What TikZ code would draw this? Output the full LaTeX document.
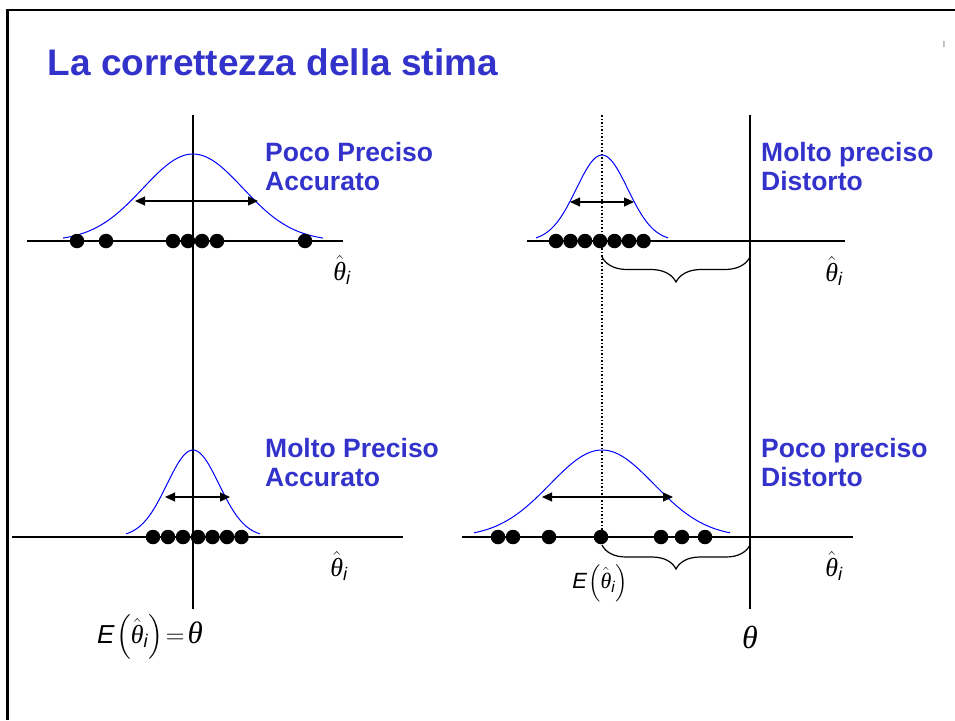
\documentclass[tikz,border=0pt]{standalone}
\usepackage{fix-cm}
\usepackage{amsmath}
\usepackage{fontspec}
\setmainfont{Liberation Sans}
\newfontfamily\grkfont{Liberation Serif}
\newcommand{\thetaglyph}{\text{\grkfont\itshape θ}}
\newcommand{\thetahat}{\hat{\thetaglyph}_{\textit{i}}}
\usetikzlibrary{arrows.meta,decorations.pathreplacing}
\definecolor{titleblue}{RGB}{51,51,204}
\definecolor{curveblue}{RGB}{0,0,255}
\begin{document}
\begin{tikzpicture}[x=1pt,y=-1pt,
  axisline/.style={line width=1.8pt},
  bellcurve/.style={draw=curveblue,line width=1pt},
  dotnode/.style={circle,fill=black,inner sep=0pt,minimum size=14.5pt},
  widtharrow/.style={{Triangle[length=10pt,width=9pt]}-{Triangle[length=10pt,width=9pt]},line width=1.2pt},
  panellabel/.style={text=titleblue,font=\bfseries\fontsize{26.5}{30}\selectfont,anchor=base west,inner sep=0pt},
  mathlabel/.style={font=\fontsize{26}{28}\selectfont,inner sep=0pt},
  bracestyle/.style={decorate,decoration={brace,amplitude=25pt},line width=1.2pt}]
\useasboundingbox (0,0) rectangle (955,720);
% frame
\coordinate (fbl) at (7.5,720);
\coordinate (ftl) at (7.5,10);
\coordinate (ftr) at (955,10);
\draw[line width=2.5pt] (fbl) -- (ftl) -- (ftr);
% page mark
\node[inner sep=0pt,font=\fontsize{9}{9}\selectfont,xscale=0.35,text=black!70] (pagenum) at (944,44) {8};
% title
\node[text=titleblue,font=\bfseries\fontsize{37}{40}\selectfont,anchor=base west,inner sep=0pt] (title) at (47.5,75) {La correttezza della stima};

% vertical lines
\coordinate (vlt) at (193,115); \coordinate (vlb) at (193,609);
\coordinate (vrt) at (750,115); \coordinate (vrb) at (750,609);
\coordinate (vdt) at (602,115); \coordinate (vdb) at (602,537);
\draw[axisline] (vlt) -- (vlb);
\draw[axisline] (vrt) -- (vrb);
\draw[dotted,line width=1.5pt] (vdt) -- (vdb);

% horizontal axes
\coordinate (a1l) at (27,241);  \coordinate (a1r) at (343,241);
\coordinate (a2l) at (527,241); \coordinate (a2r) at (845,241);
\coordinate (a3l) at (12,537);  \coordinate (a3r) at (403,537);
\coordinate (a4l) at (462,537); \coordinate (a4r) at (853,537);
\draw[axisline] (a1l) -- (a1r);
\draw[axisline] (a2l) -- (a2r);
\draw[axisline] (a3l) -- (a3r);
\draw[axisline] (a4l) -- (a4r);

% bell curves
\draw[bellcurve] plot[domain=-130:130,samples=90,smooth] ({193+\x},{241-87*exp(-0.5*(\x/50)*(\x/50))});
\draw[bellcurve] plot[domain=-66:66,samples=70,smooth] ({602+\x},{241-86*exp(-0.5*(\x/25.7)*(\x/25.7))});
\draw[bellcurve] plot[domain=-67:67,samples=70,smooth] ({193+\x},{537-87*exp(-0.5*(\x/26)*(\x/26))});
\draw[bellcurve] plot[domain=-128:128,samples=90,smooth] ({602+\x},{537-87*exp(-0.5*(\x/52)*(\x/52))});

% width arrows
\coordinate (w1l) at (135,201); \coordinate (w1r) at (258,201);
\coordinate (w2l) at (570,202); \coordinate (w2r) at (634,202);
\coordinate (w3l) at (165,497); \coordinate (w3r) at (230,497);
\coordinate (w4l) at (542,497); \coordinate (w4r) at (673,497);
\draw[widtharrow] (w1l) -- (w1r);
\draw[widtharrow] (w2l) -- (w2r);
\draw[widtharrow] (w3l) -- (w3r);
\draw[widtharrow] (w4l) -- (w4r);

% dots
\foreach \xx [count=\i] in {77,106,173,188,202,217,305}
  \node[dotnode] (pa\i) at (\xx,241) {};
\foreach \xx [count=\i] in {556,570.5,585,600,614.5,629,643.5}
  \node[dotnode] (pb\i) at (\xx,241) {};
\foreach \xx [count=\i] in {153,168,183,198,212.5,227,241.5}
  \node[dotnode] (pc\i) at (\xx,537) {};
\foreach \xx [count=\i] in {498,513,549,601,661,682,705}
  \node[dotnode] (pd\i) at (\xx,537) {};

% braces
\coordinate (b1r) at (750,257); \coordinate (b1l) at (602,257);
\coordinate (b2r) at (750,545); \coordinate (b2l) at (602,545);
\draw[bracestyle] (b1r) -- (b1l);
\draw[bracestyle,decoration={brace,amplitude=24pt}] (b2r) -- (b2l);

% theta hat labels
\node[mathlabel] (t1) at (342,270) {$\thetahat$};
\node[mathlabel] (t2) at (834,271) {$\thetahat$};
\node[mathlabel] (t3) at (339,566) {$\thetahat$};
\node[mathlabel] (t4) at (834,566) {$\thetahat$};

% expectation labels
\node[inner sep=0pt,font=\fontsize{26}{30}\selectfont] (eq1) at (150,637)
  {$\textit{E}\mkern-2mu\left(\thetahat\right)\mkern-3mu=\mkern-3mu\text{\fontsize{31}{31}\selectfont\grkfont\itshape θ}$};
\node[inner sep=0pt,font=\fontsize{22}{26}\selectfont] (eq2) at (600,583) {$\textit{E}\mkern-2mu\left(\thetahat\right)$};
\node[inner sep=0pt,font=\fontsize{32}{34}\selectfont\grkfont\itshape] (th) at (750,637) {θ};

% panel labels
\node[panellabel] (l1a) at (265,161) {Poco Preciso};
\node[panellabel] (l1b) at (265,190) {Accurato};
\node[panellabel] (l2a) at (761,161) {Molto preciso};
\node[panellabel] (l2b) at (761,190) {Distorto};
\node[panellabel] (l3a) at (265,457) {Molto Preciso};
\node[panellabel] (l3b) at (265,486) {Accurato};
\node[panellabel] (l4a) at (761,457) {Poco preciso};
\node[panellabel] (l4b) at (761,486) {Distorto};
\end{tikzpicture}
\end{document}
